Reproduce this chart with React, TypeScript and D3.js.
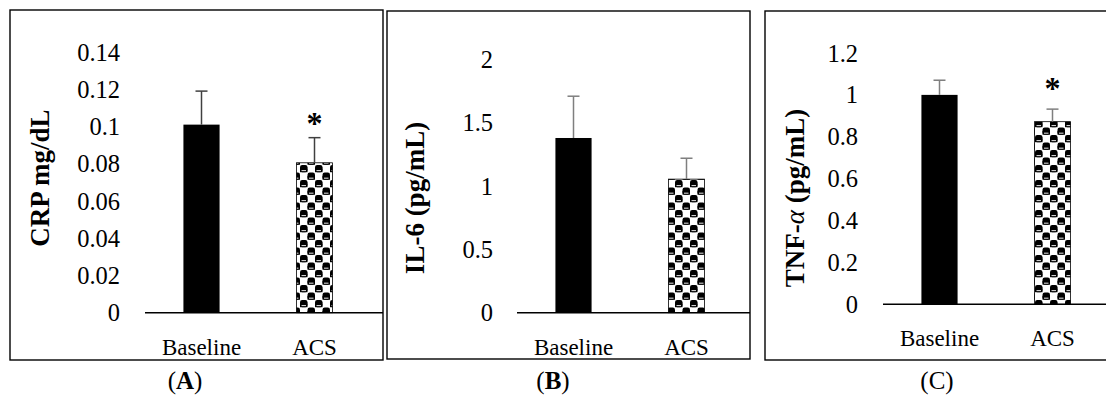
import React from "react";
import * as d3 from "d3";

const categories = ["Baseline", "ACS"];

const crpMeans = [0.101, 0.0805];
const crpErrors = [0.018, 0.0135];
const crpSignificant = [false, true];
const crpTicks = [0, 0.02, 0.04, 0.06, 0.08, 0.1, 0.12, 0.14];
const crpTickLabels = ["0", "0.02", "0.04", "0.06", "0.08", "0.1", "0.12", "0.14"];

const il6Means = [1.38, 1.055];
const il6Errors = [0.33, 0.165];
const il6Significant = [false, false];
const il6Ticks = [0, 0.5, 1, 1.5, 2];
const il6TickLabels = ["0", "0.5", "1", "1.5", "2"];

const tnfMeans = [1.0, 0.872];
const tnfErrors = [0.07, 0.06];
const tnfSignificant = [false, true];
const tnfTicks = [0, 0.2, 0.4, 0.6, 0.8, 1, 1.2];
const tnfTickLabels = ["0", "0.2", "0.4", "0.6", "0.8", "1", "1.2"];

const FONT = "'Liberation Serif', 'Times New Roman', serif";

type PanelProps = {
  means: number[];
  errors: number[];
  significant: boolean[];
  ticks: number[];
  tickLabels: string[];
  title: React.ReactNode;
  letter: string;
  letterBold: boolean;
  box: [number, number, number, number];
  yRange: [number, number];
  yMax: number;
  axisX0: number;
  tickX: number;
  titleX: number;
  titleY: number;
  letterX: number;
  errColor: string;
  starGap: number;
};

function Panel(p: PanelProps) {
  const y = d3.scaleLinear().domain([0, p.yMax]).range(p.yRange);
  const x = d3
    .scaleBand<string>()
    .domain(categories)
    .range([p.axisX0, p.axisX0 + 226])
    .paddingInner(0.68)
    .paddingOuter(0.34);
  const [bx0, by0, bx1, by1] = p.box;
  const bw = x.bandwidth();
  return (
    <g>
      <rect x={bx0} y={by0} width={bx1 - bx0} height={by1 - by0} fill="none" stroke="#000" strokeWidth={1.4} />
      {p.ticks.map((t, i) => (
        <text key={i} x={p.tickX} y={y(t)} dy="0.35em" textAnchor="end" fontSize={24.5} fontFamily={FONT} fill="#000">
          {p.tickLabels[i]}
        </text>
      ))}
      {categories.map((c, i) => {
        const x0 = x(c)!;
        const cx = x0 + bw / 2;
        const top = y(p.means[i]);
        const errTop = y(p.means[i] + p.errors[i]);
        return (
          <g key={c}>
            <rect
              x={x0}
              y={top}
              width={bw}
              height={y(0) - top}
              fill={i === 0 ? "#000" : "url(#checker)"}
              stroke={i === 0 ? "none" : "#000"}
              strokeWidth={0.8}
            />
            <line x1={cx} x2={cx} y1={top} y2={errTop} stroke={p.errColor} strokeWidth={1.5} />
            <line x1={cx - 6} x2={cx + 6} y1={errTop} y2={errTop} stroke={p.errColor} strokeWidth={1.5} />
            {p.significant[i] && (
              <text x={cx} y={errTop - p.starGap} textAnchor="middle" fontSize={32} fontWeight="bold" fontFamily={FONT} fill="#000">
                *
              </text>
            )}
            <text x={cx} y={y(0) + 42} textAnchor="middle" fontSize={23} fontFamily={FONT} fill="#000">
              {c}
            </text>
          </g>
        );
      })}
      <line x1={p.axisX0} x2={bx1} y1={y(0)} y2={y(0)} stroke="#000" strokeWidth={1.6} />
      <text
        transform={`translate(${p.titleX},${p.titleY}) rotate(-90)`}
        textAnchor="middle"
        dy="0.35em"
        fontSize={27}
        fontWeight="bold"
        fontFamily={FONT}
        fill="#000"
      >
        {p.title}
      </text>
      <text x={p.letterX} y={389} textAnchor="middle" fontSize={25} fontFamily={FONT} fill="#000">
        (<tspan fontWeight={p.letterBold ? "bold" : "normal"}>{p.letter}</tspan>)
      </text>
    </g>
  );
}

export default function App() {
  return (
    <svg width={1106} height={397} style={{ position: "absolute", left: 0, top: 0, background: "#fff" }}>
      <defs>
        <pattern id="checker" width={15} height={15} patternUnits="userSpaceOnUse">
          <rect width={15} height={15} fill="#fff" />
          <rect x={0} y={0} width={7.5} height={7.2} rx={2.2} fill="#000" />
          <rect x={7.5} y={7.5} width={7.5} height={7.2} rx={2.2} fill="#000" />
          <rect x={0} y={3.5} width={7.5} height={3.7} fill="#000" />
          <rect x={7.5} y={11} width={7.5} height={3.7} fill="#000" />
          <rect x={1.5} y={5.2} width={4.5} height={0.9} fill="#fff" />
          <rect x={9} y={12.7} width={4.5} height={0.9} fill="#fff" />
        </pattern>
      </defs>
      <rect width={1106} height={397} fill="#fff" />
      <Panel
        means={crpMeans}
        errors={crpErrors}
        significant={crpSignificant}
        ticks={crpTicks}
        tickLabels={crpTickLabels}
        title="CRP mg/dL"
        letter="A"
        letterBold={true}
        box={[10, 10, 383, 360]}
        yRange={[312.7, 52]}
        yMax={0.14}
        axisX0={145}
        tickX={120}
        titleX={40}
        titleY={178}
        letterX={185}
        errColor="#404040"
        starGap={4}
      />
      <Panel
        means={il6Means}
        errors={il6Errors}
        significant={il6Significant}
        ticks={il6Ticks}
        tickLabels={il6TickLabels}
        title="IL-6 (pg/mL)"
        letter="B"
        letterBold={true}
        box={[387, 11, 750, 359]}
        yRange={[312.7, 59.5]}
        yMax={2}
        axisX0={517}
        tickX={493}
        titleX={415}
        titleY={198}
        letterX={553}
        errColor="#7f7f7f"
        starGap={4}
      />
      <Panel
        means={tnfMeans}
        errors={tnfErrors}
        significant={tnfSignificant}
        ticks={tnfTicks}
        tickLabels={tnfTickLabels}
        title={
          <>
            TNF-<tspan fontStyle="italic" fontWeight="normal">α</tspan> (pg/mL)
          </>
        }
        letter="C"
        letterBold={false}
        box={[765, 11, 1112, 360]}
        yRange={[304.3, 53]}
        yMax={1.2}
        axisX0={883}
        tickX={858}
        titleX={795}
        titleY={198}
        letterX={937}
        errColor="#7f7f7f"
        starGap={10}
      />
    </svg>
  );
}
